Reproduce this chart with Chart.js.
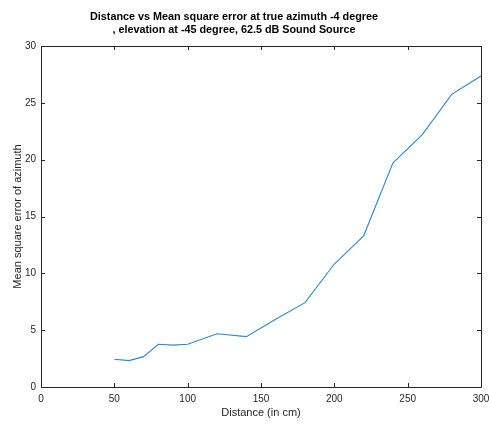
<!DOCTYPE html>
<html>
<head>
<meta charset="utf-8">
<script src="https://cdn.jsdelivr.net/npm/chart.js@4/dist/chart.umd.min.js"></script>
<style>
  html, body { margin: 0; padding: 0; background: #fff; }
  #wrap { width: 489px; height: 424px; }
</style>
</head>
<body>
<div id="wrap"><canvas id="mseChart" width="489" height="424"></canvas></div>
<script>
var distances = [50, 60, 70, 80, 90, 100, 120, 140, 160, 180, 200, 220, 240, 260, 280, 300];
var mse = [2.44, 2.32, 2.67, 3.76, 3.68, 3.76, 4.69, 4.43, 5.96, 7.42, 10.82, 13.3, 19.72, 22.2, 25.75, 27.36];
var titleLines = [
  "Distance vs Mean square error at true azimuth -4 degree",
  ", elevation at -45 degree, 62.5 dB Sound Source"
];
var xLabel = "Distance (in cm)";
var yLabel = "Mean square error of azimuth";

var fontFam = "'Liberation Sans', Arial, Helvetica, sans-serif";
var axisColor = "#262626";

// octave style: box on all sides, ticks pointing inwards, title drawn by hand
var boxPlugin = {
  id: "boxPlugin",
  afterDraw: function(chart) {
    var ctx = chart.ctx;
    var a = chart.chartArea;
    var xs = chart.scales.x, ys = chart.scales.y;
    ctx.save();
    ctx.strokeStyle = axisColor;
    ctx.lineWidth = 1;
    ctx.beginPath();
    ctx.rect(Math.round(a.left) + 0.5, Math.round(a.top) + 0.5,
             Math.round(a.right - a.left), Math.round(a.bottom - a.top));
    ctx.stroke();
    var len = 4;
    ctx.beginPath();
    xs.ticks.forEach(function(t) {
      var px = Math.round(xs.getPixelForValue(t.value)) + 0.5;
      ctx.moveTo(px, a.bottom); ctx.lineTo(px, a.bottom - len);
      ctx.moveTo(px, a.top); ctx.lineTo(px, a.top + len);
    });
    ys.ticks.forEach(function(t) {
      var py = Math.round(ys.getPixelForValue(t.value)) + 0.5;
      ctx.moveTo(a.left, py); ctx.lineTo(a.left + len, py);
      ctx.moveTo(a.right, py); ctx.lineTo(a.right - len, py);
    });
    ctx.stroke();

    ctx.fillStyle = "#000";
    ctx.font = "bold 10.8px " + fontFam;
    ctx.textAlign = "center";
    ctx.textBaseline = "alphabetic";
    ctx.fillText(titleLines[0], 234, 20);
    ctx.fillText(titleLines[1], 234, 32.5);
    ctx.restore();
  }
};

var ctx = document.getElementById("mseChart").getContext("2d");
var points = distances.map(function(d, i) { return { x: d, y: mse[i] }; });

window.mseChart = new Chart(ctx, {
  type: "scatter",
  data: {
    datasets: [{
      data: points,
      showLine: true,
      borderColor: "#2f88cc",
      backgroundColor: "#2f88cc",
      borderWidth: 1.1,
      pointRadius: 0,
      tension: 0
    }]
  },
  options: {
    responsive: false,
    animation: false,
    layout: { padding: { left: 0, top: 46, right: 8, bottom: 0 } },
    plugins: {
      legend: { display: false },
      tooltip: { enabled: false },
      title: { display: false }
    },
    scales: {
      x: {
        type: "linear",
        min: 0,
        max: 300,
        grid: { display: false, drawTicks: false },
        border: { display: false },
        ticks: {
          stepSize: 50,
          padding: 6,
          maxRotation: 0,
          color: axisColor,
          font: { family: fontFam, size: 10 }
        },
        title: {
          display: true,
          text: xLabel,
          color: axisColor,
          padding: { top: 0, bottom: 4.7 },
          font: { family: fontFam, size: 11 }
        },
        afterFit: function(s) { s.height = 37; s.paddingRight = 0; s.paddingLeft = 0; }
      },
      y: {
        min: 0,
        max: 30,
        grid: { display: false, drawTicks: false },
        border: { display: false },
        ticks: {
          stepSize: 5,
          padding: 5,
          color: axisColor,
          font: { family: fontFam, size: 10 }
        },
        title: {
          display: true,
          text: yLabel,
          color: axisColor,
          padding: { top: 11, bottom: 0 },
          font: { family: fontFam, size: 11 }
        },
        afterFit: function(s) { s.width = 41; s.paddingTop = 0; s.paddingBottom = 0; }
      }
    }
  },
  plugins: [boxPlugin]
});
</script>
</body>
</html>
